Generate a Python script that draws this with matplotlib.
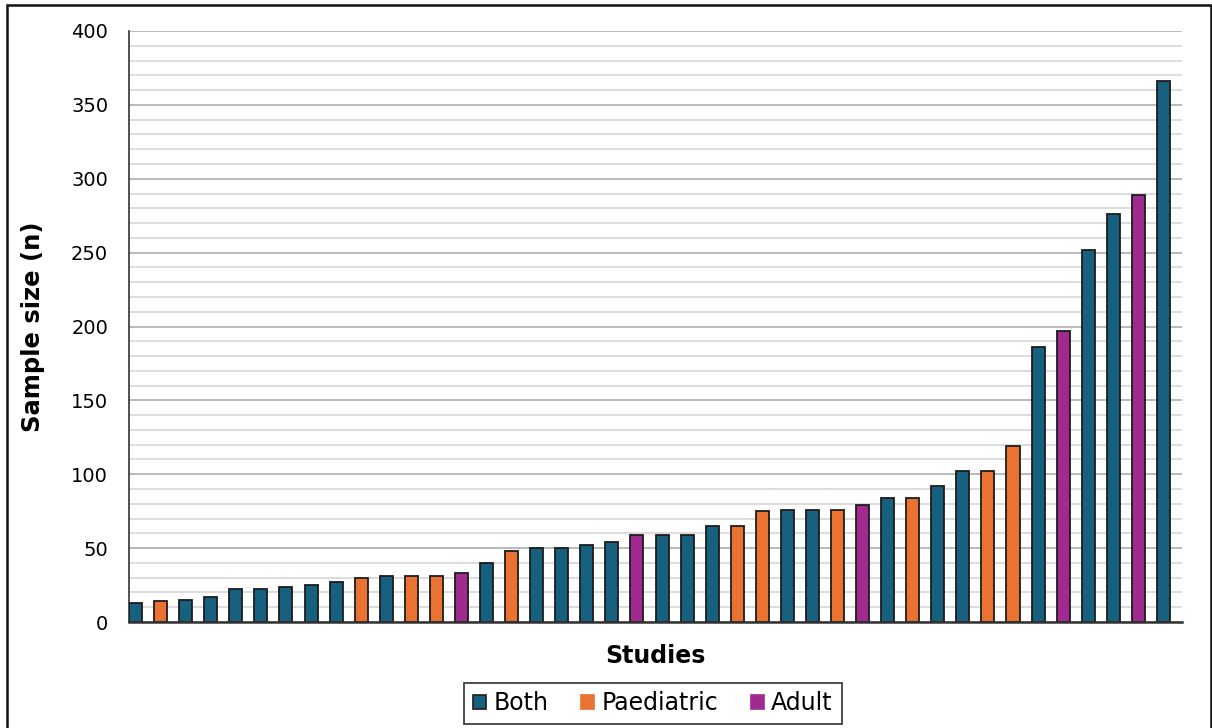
import matplotlib
matplotlib.use("Agg")
import matplotlib.pyplot as plt
from matplotlib.patches import Rectangle, Patch
from matplotlib.ticker import MultipleLocator

plt.rcParams['font.family'] = ['DejaVu Sans']

# Data
sample_sizes = [13, 14, 15, 17, 22, 22, 24, 25, 27, 30, 31, 31, 31, 33, 40, 48,
                50, 50, 52, 54, 59, 59, 59, 65, 65, 75, 76, 76, 76, 79, 84, 84,
                92, 102, 102, 119, 186, 197, 252, 276, 289, 366]
groups = ['Both', 'Paediatric', 'Both', 'Both', 'Both', 'Both', 'Both', 'Both',
          'Both', 'Paediatric', 'Both', 'Paediatric', 'Paediatric', 'Adult',
          'Both', 'Paediatric', 'Both', 'Both', 'Both', 'Both', 'Adult', 'Both',
          'Both', 'Both', 'Paediatric', 'Paediatric', 'Both', 'Both',
          'Paediatric', 'Adult', 'Both', 'Paediatric', 'Both', 'Both',
          'Paediatric', 'Paediatric', 'Both', 'Adult', 'Both', 'Both', 'Adult',
          'Both']
legend_labels = ['Both', 'Paediatric', 'Adult']
y_ticks = [0, 50, 100, 150, 200, 250, 300, 350, 400]

colors = {'Both': '#17607f', 'Paediatric': '#ea7331', 'Adult': '#a02a90'}
edge = '#1c1c1c'

W, H = 1212, 728
fig = plt.figure(figsize=(W / 100, H / 100), dpi=100)
ax = fig.add_axes([129 / W, 1 - 622 / H, (1182 - 129) / W, (622 - 31) / H])

x = list(range(len(sample_sizes)))
ax.bar(x, sample_sizes, width=0.52, align='edge',
       color=[colors[g] for g in groups], edgecolor=edge, linewidth=1.3,
       zorder=3)

ax.set_xlim(0, len(sample_sizes))
ax.set_ylim(0, 400)
ax.set_yticks(y_ticks)
ax.yaxis.set_minor_locator(MultipleLocator(10))
ax.grid(axis='y', which='major', color='#b4b4b4', linewidth=1.3, zorder=0)
ax.grid(axis='y', which='minor', color='#d9d9d9', linewidth=1.3, zorder=0)
ax.set_xticks([])
ax.tick_params(axis='y', which='both', length=0, labelsize=14, pad=15)

for s in ['top', 'right']:
    ax.spines[s].set_visible(False)
ax.spines['left'].set_color('#333333')
ax.spines['left'].set_linewidth(1.2)
ax.spines['bottom'].set_color('#333333')
ax.spines['bottom'].set_linewidth(1.8)
ax.spines['bottom'].set_zorder(4)

fig.text(33 / W, 1 - 326.5 / H, 'Sample size (n)', rotation=90, fontsize=17.5,
         fontweight='bold', ha='center', va='center')
fig.text(655.5 / W, 1 - 656 / H, 'Studies', fontsize=17,
         fontweight='bold', ha='center', va='center')

handles = [Patch(facecolor=colors[l], edgecolor=edge if l == 'Both' else colors[l],
                 linewidth=1.2) for l in legend_labels]
leg = fig.legend(handles, legend_labels, loc='center',
                 bbox_to_anchor=(653 / W, 1 - 703.5 / H), ncol=3,
                 fontsize=17, frameon=True, fancybox=False,
                 handlelength=0.55, handleheight=0.55, handletextpad=0.3,
                 columnspacing=1.4, borderpad=0.38, borderaxespad=0)
leg.get_frame().set_edgecolor('#111111')
leg.get_frame().set_linewidth(1.3)

fig.patches.append(Rectangle((6.5 / W, -0.05), (1210.5 - 6.5) / W, 1.05 - 5 / H,
                             transform=fig.transFigure, fill=False,
                             edgecolor='#111111', linewidth=1.8))

fig.savefig('out.png', dpi=100)
